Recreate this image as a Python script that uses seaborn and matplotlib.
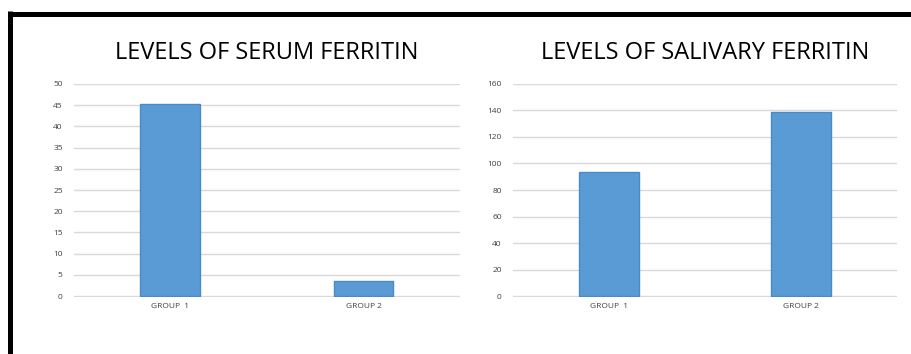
import numpy as np
import pandas as pd
import matplotlib
matplotlib.use("Agg")
import matplotlib.pyplot as plt
import seaborn as sns
from matplotlib.lines import Line2D

# data
groups = ["GROUP  1", "GROUP 2"]
serum_values = [45.3, 3.5]
salivary_values = [93.9, 139.0]
serum_ticks = list(range(0, 55, 5))
salivary_ticks = list(range(0, 180, 20))

sns.set_theme(style="white")
plt.rcParams['font.family'] = ['Open Sans', 'DejaVu Sans']

fig = plt.figure(figsize=(9.11, 3.54), dpi=100)
ax1 = fig.add_axes([0.081, 0.161, 0.424, 0.602])
ax2 = fig.add_axes([0.563, 0.161, 0.422, 0.602])

bar_color = "#5B9BD5"
edge_color = "#4A8AC9"


def draw_panel(ax, values, ticks, title):
    df = pd.DataFrame({"group": groups, "value": values})
    sns.barplot(data=df, x="group", y="value", ax=ax, color=bar_color,
                width=0.31, edgecolor=edge_color, linewidth=1.0,
                saturation=1, zorder=3)
    ax.set_ylim(ticks[0] - ticks[-1] * 0.004, ticks[-1])
    ax.set_xlim(-0.5, 1.5)
    ax.set_yticks(ticks)
    ax.set_yticklabels([str(t) for t in ticks])
    ax.grid(axis="y", color="#D9D9D9", linewidth=1.0, zorder=0)
    ax.set_axisbelow(True)
    for s in ax.spines.values():
        s.set_visible(False)
    ax.tick_params(axis="both", length=0, labelsize=6, colors="#404040")
    ax.tick_params(axis="y", pad=8)
    ax.tick_params(axis="x", pad=4)
    ax.set_xlabel("")
    ax.set_ylabel("")
    ax.set_title(title, fontsize=17, color="black", pad=18)


draw_panel(ax1, serum_values, serum_ticks, "LEVELS OF SERUM FERRITIN")
draw_panel(ax2, salivary_values, salivary_ticks, "LEVELS OF SALIVARY FERRITIN")

# black frame (top and left edges)
fig.add_artist(Line2D([10.2 / 911, 1.0], [1 - 13.8 / 354, 1 - 13.8 / 354],
                      transform=fig.transFigure, color="black", linewidth=3.6,
                      solid_capstyle="butt"))
fig.add_artist(Line2D([10.2 / 911, 10.2 / 911], [1 - 11.3 / 354, 0.0],
                      transform=fig.transFigure, color="black", linewidth=3.6,
                      solid_capstyle="butt"))

fig.savefig("out.png", dpi=100, facecolor="white")
